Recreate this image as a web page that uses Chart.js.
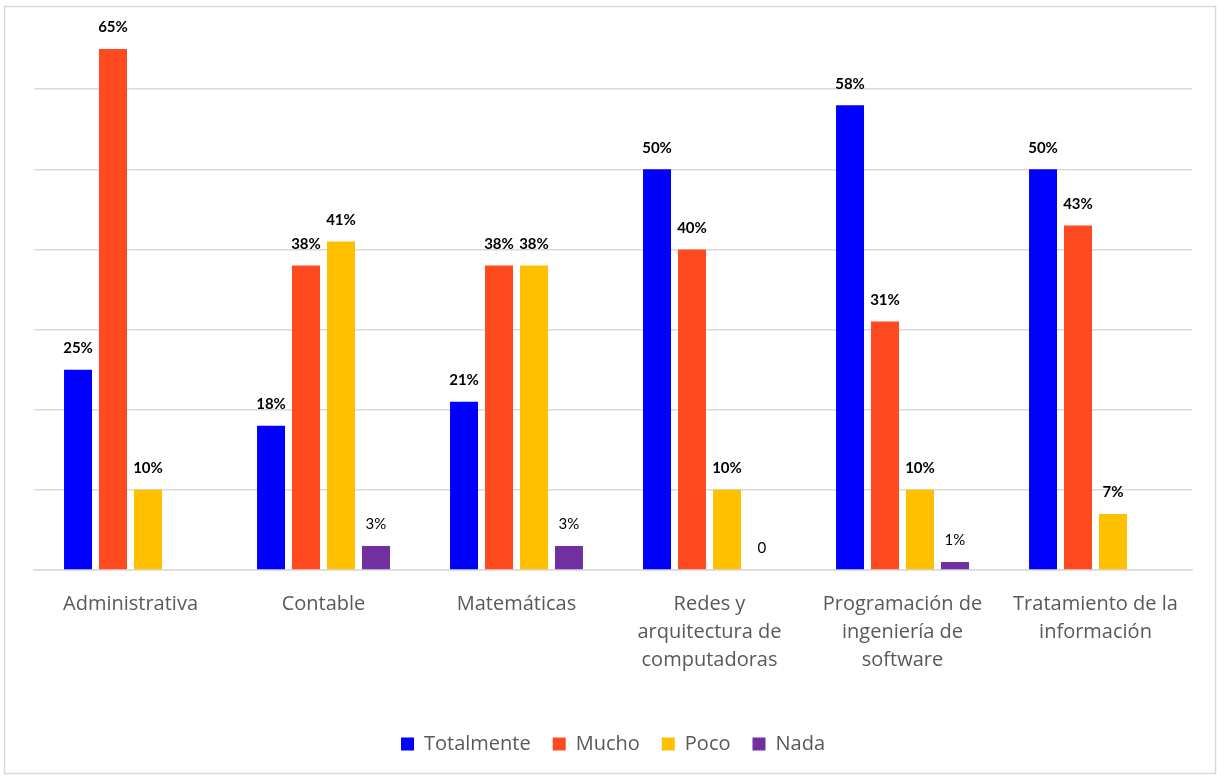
<!DOCTYPE html>
<html>
<head>
<meta charset="utf-8">
<script src="https://cdn.jsdelivr.net/npm/chart.js@4.4.1/dist/chart.umd.min.js"></script>
<style>
	html, body { margin: 0; padding: 0; background: #fff; }
	#wrap { width: 1217px; height: 775px; }
</style>
</head>
<body>
<div id="wrap"><canvas id="chart"></canvas></div>
<script>
	const categories = [
		'Administrativa',
		'Contable',
		'Matemáticas',
		['Redes y', 'arquitectura de', 'computadoras'],
		['Programación de', 'ingeniería de', 'software'],
		['Tratamiento de la', 'información']
	];

	const totalmente = [25, 18, 21, 50, 58, 50];
	const mucho = [65, 38, 38, 40, 31, 43];
	const poco = [10, 41, 38, 10, 10, 7];
	const nada = [null, 3, 3, 0, 1, null];

	const series_names = ['Totalmente', 'Mucho', 'Poco', 'Nada'];
	const series_colors = ['#0000ff', '#ff4a1f', '#ffc000', '#7030a0'];

	const label_font = 'Lato, "Open Sans", sans-serif';
	const text_font = '"Open Sans", Lato, sans-serif';

	// border round the whole chart
	const frame = {
		id: 'frame',
		beforeDraw(chart) {
			const c = chart.ctx;
			c.save();
			c.strokeStyle = '#d9d9d9';
			c.lineWidth = 1.5;
			c.strokeRect(4.5, 6.5, chart.width - 6, chart.height - 8);
			c.restore();
		}
	};

	// value labels above each bar
	const bar_labels = {
		id: 'bar_labels',
		afterDatasetsDraw(chart) {
			const c = chart.ctx;
			c.save();
			c.textAlign = 'center';
			c.textBaseline = 'bottom';
			c.fillStyle = '#000';
			chart.data.datasets.forEach((ds, i) => {
				const meta = chart.getDatasetMeta(i);
				meta.data.forEach((bar, j) => {
					const v = ds.data[j];
					if (v === null || v === undefined) return;
					const small = v < 5;
					c.font = (small ? '' : 'bold ') + '15px ' + label_font;
					const text = v === 0 ? '0' : v + '%';
					c.fillText(text, bar.x, bar.y - 14);
				});
			});
			c.restore();
		}
	};

	new Chart(document.getElementById('chart'), {
		type: 'bar',
		data: {
			labels: categories,
			datasets: [totalmente, mucho, poco, nada].map((d, i) => ({
				label: series_names[i],
				data: d,
				backgroundColor: series_colors[i],
				barPercentage: 0.8,
				categoryPercentage: 0.725
			}))
		},
		options: {
			responsive: true,
			maintainAspectRatio: false,
			animation: false,
			layout: {
				padding: { left: 34, right: 25, top: 9, bottom: 11 }
			},
			scales: {
				x: {
					grid: { display: false },
					border: { color: '#d9d9d9', width: 1.5 },
					ticks: {
						color: '#595959',
						font: { family: text_font, size: 20, lineHeight: 1.4 },
						padding: 12,
						maxRotation: 0,
						autoSkip: false
					},
					afterFit(scale) {
						scale.height += 26;
					}
				},
				y: {
					min: 0,
					max: 70,
					ticks: { display: false, stepSize: 10 },
					border: { display: false },
					grid: {
						color: (ctx) => ctx.tick && ctx.tick.value === 70 ? 'rgba(0,0,0,0)' : '#d9d9d9',
						lineWidth: 1.5,
						drawTicks: false
					}
				}
			},
			plugins: {
				legend: {
					position: 'bottom',
					labels: {
						color: '#595959',
						font: { family: text_font, size: 20 },
						boxWidth: 13,
						boxHeight: 13,
						padding: 22
					}
				},
				tooltip: { enabled: false }
			}
		},
		plugins: [frame, bar_labels]
	});
</script>
</body>
</html>
